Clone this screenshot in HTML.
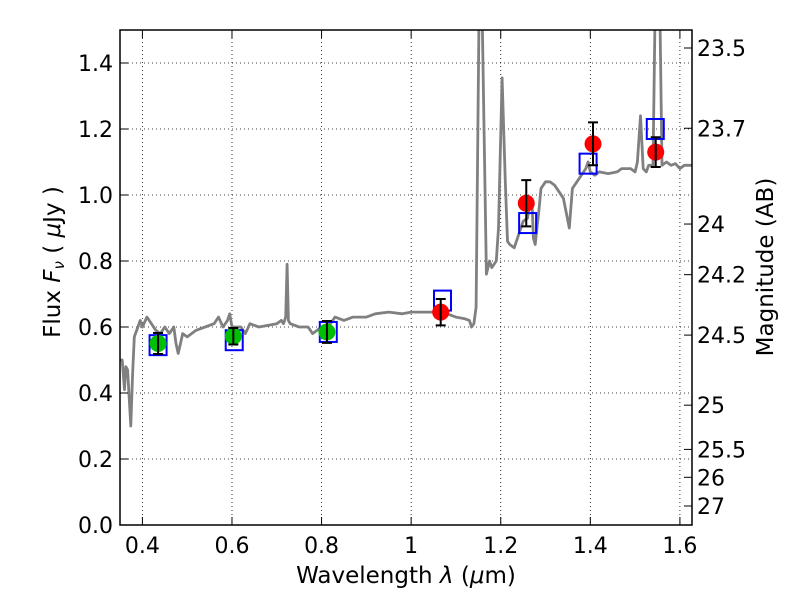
<!DOCTYPE html>
<html><head><meta charset="utf-8"><style>
body{margin:0;background:#fff;}
svg text{font-family:"DejaVu Sans","Liberation Sans",sans-serif;}
</style></head><body>
<svg id="chart" width="800" height="600" xmlns="http://www.w3.org/2000/svg">
<defs><clipPath id="clip"><rect x="120" y="30" width="572" height="495"/></clipPath></defs>
<g id="grid"></g>
<g id="plot" clip-path="url(#clip)"></g>
<rect x="120" y="30" width="572" height="495" fill="none" stroke="#000" stroke-width="1.5"/>
<g id="axes"></g>
<text x="406" y="583" font-size="23" text-anchor="middle">Wavelength  <tspan font-style="italic">λ</tspan> (<tspan font-style="italic">μ</tspan>m)</text>
<text transform="translate(60,262) rotate(-90)" font-size="23" text-anchor="middle">Flux  <tspan font-style="italic">F<tspan font-size="15" dy="4">ν</tspan></tspan><tspan dy="-4">  (  </tspan><tspan font-style="italic">μ</tspan>Jy )</text>
<text transform="translate(773,267) rotate(-90)" font-size="23" text-anchor="middle">Magnitude (AB)</text>
</svg>
<script>
const specW=[0.35,0.355,0.36,0.363,0.367,0.374,0.378,0.382,0.39,0.395,0.40,0.41,0.42,0.43,0.44,0.45,0.46,0.47,0.475,0.48,0.485,0.49,0.50,0.52,0.54,0.56,0.57,0.58,0.59,0.595,0.60,0.62,0.63,0.64,0.66,0.68,0.70,0.71,0.715,0.72,0.723,0.726,0.73,0.75,0.77,0.78,0.80,0.82,0.83,0.85,0.87,0.90,0.92,0.95,0.98,1.0,1.02,1.05,1.08,1.10,1.12,1.13,1.135,1.14,1.145,1.152,1.158,1.168,1.175,1.18,1.19,1.195,1.203,1.21,1.215,1.22,1.23,1.24,1.25,1.26,1.265,1.27,1.273,1.277,1.285,1.29,1.30,1.31,1.32,1.33,1.34,1.353,1.36,1.37,1.38,1.39,1.395,1.40,1.41,1.42,1.44,1.46,1.47,1.49,1.50,1.505,1.512,1.518,1.525,1.53,1.535,1.54,1.545,1.555,1.56,1.57,1.58,1.59,1.60,1.61,1.627];
const specF=[0.50,0.50,0.41,0.48,0.47,0.30,0.45,0.57,0.60,0.62,0.60,0.63,0.61,0.59,0.58,0.60,0.58,0.60,0.55,0.52,0.55,0.58,0.57,0.59,0.60,0.61,0.63,0.60,0.62,0.64,0.60,0.60,0.58,0.61,0.60,0.605,0.61,0.62,0.61,0.63,0.79,0.62,0.61,0.60,0.60,0.58,0.60,0.61,0.63,0.62,0.63,0.63,0.64,0.645,0.64,0.645,0.645,0.645,0.64,0.63,0.625,0.62,0.60,0.61,0.66,1.6,1.6,0.76,0.80,0.78,0.80,0.90,1.355,1.05,0.86,0.85,0.84,0.88,0.92,0.93,0.98,0.97,0.87,0.85,0.95,1.02,1.04,1.04,1.03,1.01,0.99,0.90,1.02,1.04,1.06,1.08,1.10,1.07,1.06,1.07,1.065,1.07,1.08,1.08,1.07,1.10,1.24,1.08,1.07,1.09,1.09,1.09,1.6,1.6,1.09,1.10,1.09,1.095,1.08,1.09,1.09];
const greenW=[0.435,0.603,0.812];
const greenF=[0.55,0.572,0.585];
const greenErr=[0.032,0.025,0.033];
const redW=[1.066,1.257,1.406,1.546];
const redF=[0.645,0.975,1.155,1.13];
const redErr=[0.04,0.07,0.065,0.045];
const boxW=[0.435,0.605,0.815,1.07,1.26,1.395,1.545];
const boxF=[0.545,0.56,0.585,0.68,0.915,1.095,1.2];
const xTicks=[0.4,0.6,0.8,1.0,1.2,1.4,1.6];
const xLabels=["0.4","0.6","0.8","1","1.2","1.4","1.6"];
const yTicks=[0,0.2,0.4,0.6,0.8,1.0,1.2,1.4];
const yLabels=["0.0","0.2","0.4","0.6","0.8","1.0","1.2","1.4"];
const magTicks=[23.5,23.7,24,24.2,24.5,25,25.5,26,27];
const magLabels=["23.5","23.7","24","24.2","24.5","25","25.5","26","27"];

const X0=0.35,X1=1.627,Y0=0,Y1=1.5;
const sx=w=>120+(w-X0)/(X1-X0)*572;
const sy=f=>525-(f-Y0)/(Y1-Y0)*495;
const NS="http://www.w3.org/2000/svg";
function mk(tag,attrs,parent){const e=document.createElementNS(NS,tag);for(const k in attrs)e.setAttribute(k,attrs[k]);parent.appendChild(e);return e;}
const grid=document.getElementById('grid'),plot=document.getElementById('plot'),axes=document.getElementById('axes');

xTicks.forEach((t,i)=>{
 const x=sx(t);
 const g=mk('line',{x1:x,x2:x,y1:30,y2:525,stroke:'#000','stroke-width':0.8,'stroke-dasharray':'1,3'},grid);
 
 
 const tk=mk('line',{x1:x,x2:x,y1:525,y2:517,stroke:'#000'},axes);
 
 
 const tt=mk('line',{x1:x,x2:x,y1:30,y2:38,stroke:'#000'},axes);
 
 
 const l=mk('text',{x:x,y:553,'font-size':22,'text-anchor':'middle'},axes);
 l.textContent=xLabels[i];
 
 
});
yTicks.forEach((t,i)=>{
 const y=sy(t);
 const g=mk('line',{x1:120,x2:692,y1:y,y2:y,stroke:'#000','stroke-width':0.8,'stroke-dasharray':'1,3'},grid);
 
 
 const tk=mk('line',{x1:120,x2:128,y1:y,y2:y,stroke:'#000'},axes);
 
 
 const l=mk('text',{x:113,y:y+8,'font-size':22,'text-anchor':'end'},axes);
 l.textContent=yLabels[i];
 
 
});
magTicks.forEach((m,i)=>{
 const y=sy(Math.pow(10,(23.9-m)/2.5));
 const tk=mk('line',{x1:684,x2:692,y1:y,y2:y,stroke:'#000'},axes);
 
 
 const l=mk('text',{x:697,y:y+8,'font-size':22},axes);
 l.textContent=magLabels[i];
 
 
});

const pts=specW.map((w,i)=>sx(w).toFixed(1)+','+sy(specF[i]).toFixed(1)).join(' ');
const sp=mk('polyline',{points:pts,fill:'none',stroke:'#808080','stroke-width':2.8,'stroke-linejoin':'round'},plot);



boxW.forEach((w,i)=>{
 const b=mk('rect',{x:sx(w)-8.5,y:sy(boxF[i])-10,width:17,height:20,fill:'none',stroke:'#0000ff','stroke-width':2},plot);
 
 
});
function pt(ws,fs,es,color,name){
 ws.forEach((w,i)=>{
  const x=sx(w),y=sy(fs[i]);
  const c=mk('circle',{cx:x,cy:y,r:8.5,fill:color},plot);
  
  
  const y1=sy(fs[i]+es[i]),y2=sy(fs[i]-es[i]);
  const e=mk('path',{d:`M${x},${y1}V${y2}M${x-5},${y1}H${x+5}M${x-5},${y2}H${x+5}`,stroke:'#000','stroke-width':2,fill:'none'},plot);
  
  
 });
}
pt(greenW,greenF,greenErr,'#00bf00','green-point');
pt(redW,redF,redErr,'#ff0000','red-point');
</script>
</body></html>
